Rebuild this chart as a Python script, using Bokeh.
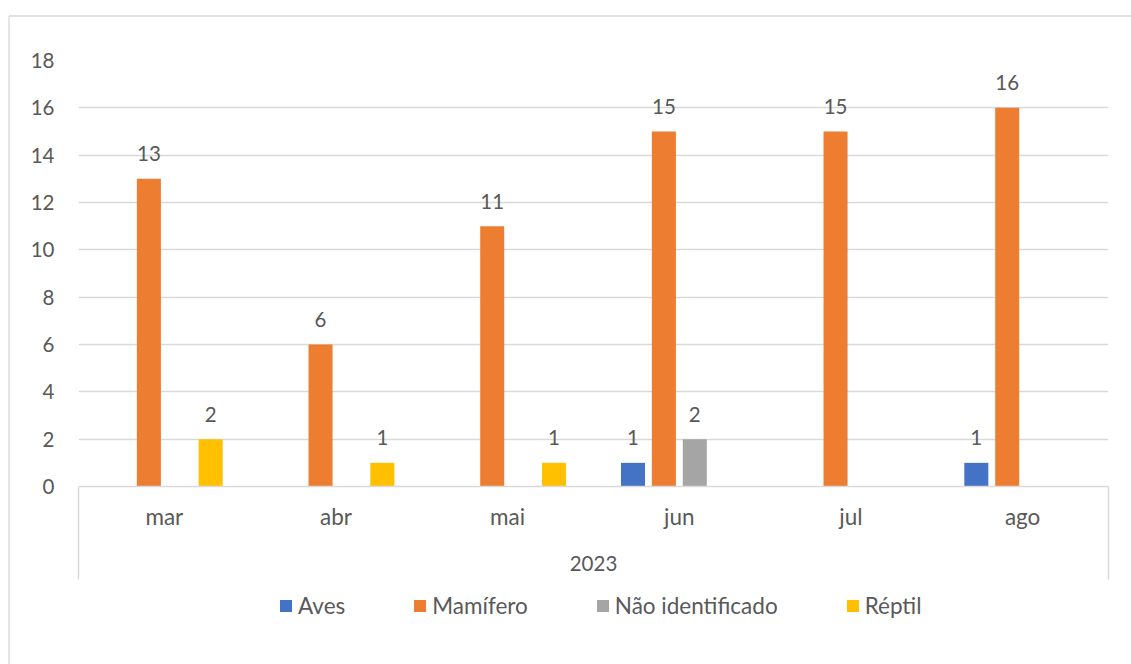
from bokeh.plotting import figure
from bokeh.models import (ColumnDataSource, FactorRange, Range1d, FixedTicker,
                          Label, Legend, LegendItem)
from bokeh.transform import dodge
from bokeh.core.properties import value
from bokeh.embed import file_html
from bokeh.resources import INLINE

months = ["mar", "abr", "mai", "jun", "jul", "ago"]
year_label = "2023"
series_names = ["Aves", "Mamífero", "Não identificado", "Réptil"]
aves = [0, 0, 0, 1, 0, 1]
mamifero = [13, 6, 11, 15, 15, 16]
nao_identificado = [0, 0, 0, 2, 0, 0]
reptil = [2, 1, 1, 0, 0, 0]
y_ticks = [0, 2, 4, 6, 8, 10, 12, 14, 16, 18]

colors = ["#4472C4", "#ED7D31", "#A5A5A5", "#FFC000"]
offsets = [-0.27, -0.09, 0.09, 0.27]
FONT = "Lato"
TXT = "#595959"
GRID = "#D9D9D9"
FS = "20.5px"     # digits
FS_W = "22.5px"   # words

series = [aves, mamifero, nao_identificado, reptil]

# frame spans from the 18 gridline down to the bottom of the canvas;
# the space below 0 holds category labels, group label and legend
p = figure(width=1131, height=664, x_range=FactorRange(*months, range_padding=0),
           y_range=Range1d(-7.521, 18), output_backend="svg", toolbar_location=None,
           min_border_left=78, min_border_right=23, min_border_top=60,
           min_border_bottom=0)
p.outline_line_color = None
p.background_fill_color = "white"

# y axis
p.yaxis.ticker = FixedTicker(ticks=y_ticks)
p.yaxis.axis_line_color = None
p.yaxis.major_tick_line_color = None
p.yaxis.minor_tick_line_color = None
p.yaxis.major_label_standoff = 18
p.yaxis.major_label_text_font = FONT
p.yaxis.major_label_text_font_size = FS
p.yaxis.major_label_text_color = TXT
p.ygrid.ticker = FixedTicker(ticks=y_ticks[1:])
p.ygrid.grid_line_color = GRID
p.ygrid.grid_line_width = 1.3
p.xgrid.grid_line_color = None

# x axis, fixed at y = 0
p.xaxis.fixed_location = 0
p.xaxis.axis_line_color = GRID
p.xaxis.axis_line_width = 1.5
p.xaxis.major_tick_line_color = None
p.xaxis.minor_tick_line_color = None
p.xaxis.major_label_standoff = 10
p.xaxis.major_label_text_font = FONT
p.xaxis.major_label_text_font_size = FS_W
p.xaxis.major_label_text_color = TXT

legend_items = []
for name, vals, col, off in zip(series_names, series, colors, offsets):
    src = ColumnDataSource(dict(month=months, v=vals))
    r = p.vbar(x=dodge("month", off, range=p.x_range), top="v", width=0.14,
               source=src, fill_color=col, line_color=None)
    legend_items.append(LegendItem(label=name, renderers=[r]))
    lab_m = [m for m, v in zip(months, vals) if v > 0]
    lab_v = [v for v in vals if v > 0]
    lsrc = ColumnDataSource(dict(month=lab_m, v=lab_v, t=[str(v) for v in lab_v]))
    p.text(x=dodge("month", off, range=p.x_range), y="v", text="t", source=lsrc,
           text_align="center", text_baseline="alphabetic", y_offset=-25,
           text_font=value(FONT), text_font_size=FS, text_color=TXT)

# category edge lines below the axis
edge = p.segment(x0=[0, len(months)], x1=[0, len(months)], y0=[0, 0], y1=[-3.93, -3.93],
                 line_color=GRID, line_width=1.5)
edge.level = "overlay"

# chart-area border (left and top edges visible in the reference)
border = p.segment(x0=[-0.4049, -0.4049], x1=[-0.4049, 6.2], y0=[19.88, 19.88],
                   y1=[-7.6, 19.88], line_color=GRID, line_width=1.3)
border.level = "overlay"

p.add_layout(Label(x=len(months) / 2, y=-3.254, text=year_label, text_align="center",
                   text_baseline="middle", text_font=FONT, text_font_size=FS,
                   text_color=TXT))

legend = Legend(items=legend_items, orientation="horizontal", location=(200, 45),
                border_line_color=None, background_fill_alpha=0, padding=0, margin=0,
                spacing=67, glyph_width=15, glyph_height=15, label_standoff=5,
                label_text_font=FONT, label_text_font_size=FS_W, label_text_color=TXT)
p.add_layout(legend, "center")

open("out.html", "w").write(file_html(p, INLINE))
